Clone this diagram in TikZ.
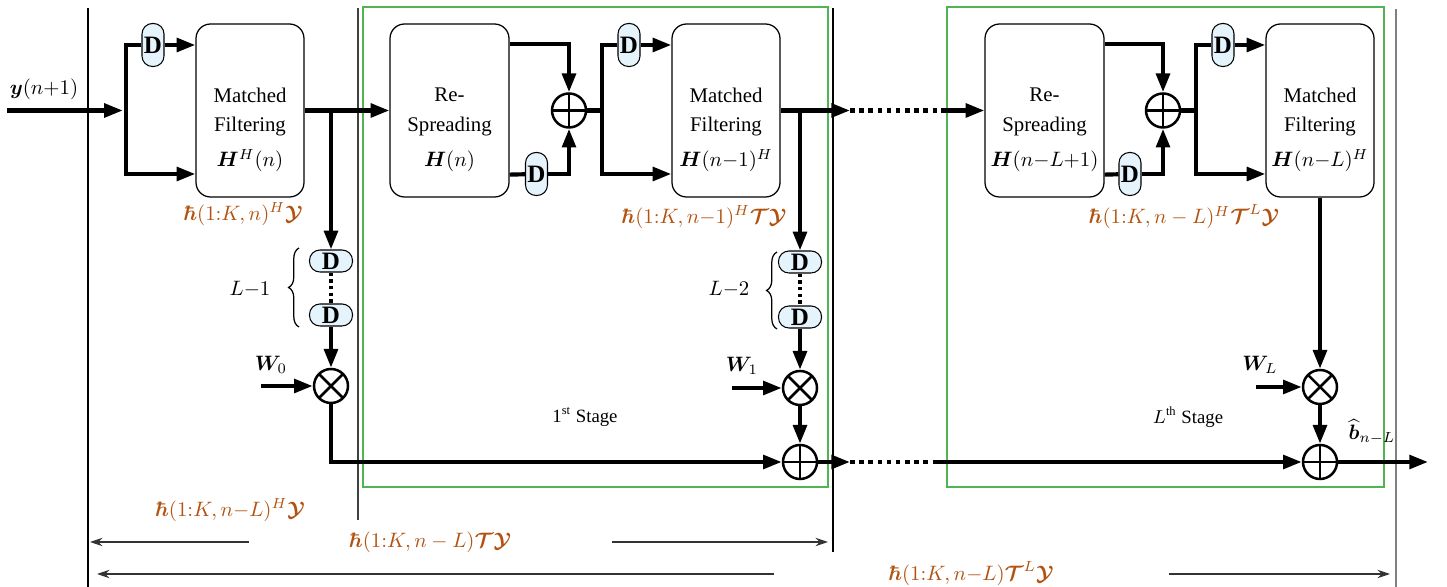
\documentclass[tikz,border=0pt]{standalone}
\usepackage[no-math]{fontspec}
\setmainfont{Liberation Serif}
\usepackage{amsmath}
\usepackage{bm}
\usetikzlibrary{arrows.meta,calc,decorations.pathreplacing}
\newlength\pu \setlength\pu{0.48pt}
\definecolor{lbl}{RGB}{178,82,16}
\definecolor{stagegreen}{RGB}{80,180,80}
\definecolor{dfill}{RGB}{228,243,252}
\begin{document}
\begin{tikzpicture}[x=0.48pt,y=-0.48pt,
  blk/.style={draw, rounded corners=7pt, minimum width=108\pu, minimum height=173\pu, inner sep=0pt, line width=0.6pt},
  blkw/.style={blk, minimum width=119\pu},
  btxt/.style={align=center, font=\fontsize{10}{14}\selectfont, inner sep=0pt},
  dv/.style={draw, fill=dfill, rounded corners=5pt, minimum width=22\pu, minimum height=43\pu, inner sep=0pt, font=\fontsize{12}{12}\selectfont\bfseries, line width=0.5pt},
  dh/.style={dv, minimum width=43\pu, minimum height=22\pu},
  sig/.style={line width=2pt},
  arr/.style={sig, -{Triangle[length=9pt,width=6.5pt]}},
  dotsig/.style={line width=2pt, dash pattern=on 2.2pt off 2.2pt},
  sumnode/.style={circle, draw, line width=1.2pt, minimum size=34\pu, inner sep=0pt,
    path picture={\draw[line width=1.2pt] (path picture bounding box.north)--(path picture bounding box.south) (path picture bounding box.east)--(path picture bounding box.west);}},
  mulnode/.style={circle, draw, line width=1.2pt, minimum size=34\pu, inner sep=0pt,
    path picture={\draw[line width=1.2pt] (path picture bounding box.north west)--(path picture bounding box.south east) (path picture bounding box.north east)--(path picture bounding box.south west);}},
  olbl/.style={text=lbl, font=\fontsize{10}{12}\selectfont},
  thinarr/.style={line width=0.8pt, draw=black!80, {Stealth[length=6pt,width=4pt]}-{Stealth[length=6pt,width=4pt]}},
  brc/.style={decorate, decoration={brace, amplitude=5pt}, line width=0.6pt},
  frame/.style={draw=stagegreen, line width=0.7pt}
]
\useasboundingbox (0,0) rectangle (1447,587);

% stage frames and separators
\draw[frame] (363,7) rectangle (828,487);
\draw[frame] (947,7) rectangle (1384,487);
\draw[line width=0.5pt] (88,8) -- (88,587);
\draw[black!75, line width=0.9pt] (358,8) -- (358,520);
\draw[line width=0.6pt] (833,8) -- (833,552);
\draw[black!50, line width=0.9pt] (1396,9) -- (1396,587);

% ---------- input and first matched filter ----------
\coordinate (yin) at (7,110.5);
\coordinate (sp1) at (126,110.5);
\coordinate (sp1t) at (126,45);
\coordinate (sp1b) at (126,174);
\node (ylab) at (44,89) {$\bm{y}(n{+}1)$};
\node[blk] (mf1) at (250,110.5) {};
\node[btxt] (mf1t) at (250,130) {Matched\\Filtering\\[3pt]$\bm{H}^H(n)$};
\node[dv] (dm1) at (153,45) {D};
\draw[arr, shorten >=1.5pt] (yin) -- (sp1);
\draw[arr] (dm1) -| (sp1b) -- (mf1.west |- sp1b);
\draw[arr] (dm1) -- (mf1.west |- dm1);
\node[olbl] (h1) at (243,214) {$\bm{\hbar}(1{:}K,n)^H\bm{\mathcal{Y}}$};

% branch 0
\coordinate (b1) at (331,110.5);
\node[dh] (d1a) at (331,261) {D};
\node[dh] (d1b) at (331,315) {D};
\node[mulnode] (m1) at (331,386) {};
\coordinate (w0in) at (261,386);
\node (w0l) at (271,365) {$\bm{W}_0$};
\node (l1) at (250,289) {$L{-}1$};
\draw[brc] (299,327) -- (299,248);
\draw[arr] (b1) -- (d1a);
\draw[dotsig, line width=1.5pt, dash pattern=on 1.6pt off 1.6pt] (d1a) -- (d1b);
\draw[arr] (d1b) -- (m1);
\draw[arr] (w0in) -- (m1);

% ---------- stage 1 ----------
\node[blkw] (rs1) at (449.5,110.5) {};
\node[btxt] (rs1t) at (449.5,130) {Re-\\Spreading\\[3pt]$\bm{H}(n)$};
\draw[arr] (mf1) -- (rs1);
\node[sumnode] (s1) at (569,110.5) {};
\node[dv] (dr1) at (536.5,174) {D};
\draw[arr] ($(rs1.north east)+(0,21)$) -| (s1);
\draw[sig] ($(rs1.south east)+(0,-23)$) -- (dr1);
\draw[arr] (dr1) -| (s1);
\coordinate (c2) at (602,110.5);
\coordinate (c2b) at (602,174);
\node[dv] (dm2) at (629,45) {D};
\node[blk] (mf2) at (726,110.5) {};
\node[btxt] (mf2t) at (726,130) {Matched\\Filtering\\[3pt]$\bm{H}(n{-}1)^H$};
\draw[sig] (s1) -- (c2);
\draw[arr] (dm2) -| (c2b) -- (mf2.west |- c2b);
\draw[arr] (dm2) -- (mf2.west |- dm2);
\node[olbl] (h2) at (704,217) {$\bm{\hbar}(1{:}K,n{-}1)^H\bm{\mathcal{T}}\bm{\mathcal{Y}}$};

% branch 1
\coordinate (b2) at (800,110.5);
\node[dh] (d2a) at (800,262) {D};
\node[dh] (d2b) at (800,317) {D};
\node[mulnode] (m2) at (800,388) {};
\node[sumnode] (a1) at (800,462) {};
\coordinate (w1in) at (732,388);
\node (w1l) at (742,366) {$\bm{W}_1$};
\node (l2) at (729,289) {$L{-}2$};
\draw[brc] (777,329) -- (777,252);
\draw[arr] (b2) -- (d2a);
\draw[dotsig, line width=1.5pt, dash pattern=on 1.6pt off 1.6pt] (d2a) -- (d2b);
\draw[arr] (d2b) -- (m2);
\draw[arr] (w1in) -- (m2);
\draw[arr] (m2) -- (a1);
\draw[arr] (m1) |- (a1);
\node (st1) at (585,417) {\fontsize{9}{10}\selectfont 1\textsuperscript{st} Stage};

% ---------- between stages ----------
\coordinate (dt1s) at (850,110.5);
\coordinate (dt1e) at (941,110.5);
\coordinate (dt2s) at (850,462);
\coordinate (dt2e) at (936,462);

% ---------- stage L ----------
\node[blkw] (rs2) at (1044.5,110.5) {};
\node[btxt] (rs2t) at (1044.5,130) {Re-\\Spreading\\[3pt]$\bm{H}(n{-}L{+}1)$};
\draw[arr] (mf2) -- (dt1s);
\draw[dotsig] (dt1s) -- (dt1e);
\draw[arr] (dt1e) -- (rs2);
\node[sumnode] (s2) at (1163,110.5) {};
\node[dv] (dr2) at (1130,174) {D};
\draw[arr] ($(rs2.north east)+(0,21)$) -| (s2);
\draw[sig] ($(rs2.south east)+(0,-23)$) -- (dr2);
\draw[arr] (dr2) -| (s2);
\coordinate (c3) at (1196,110.5);
\coordinate (c3b) at (1196,174);
\node[dv] (dm3) at (1223,45) {D};
\node[blk] (mf3) at (1320,110.5) {};
\node[btxt] (mf3t) at (1320,130) {Matched\\Filtering\\[3pt]$\bm{H}(n{-}L)^H$};
\draw[sig] (s2) -- (c3);
\draw[arr] (dm3) -| (c3b) -- (mf3.west |- c3b);
\draw[arr] (dm3) -- (mf3.west |- dm3);
\node[olbl] (h3) at (1184,217) {$\bm{\hbar}(1{:}K,n-L)^H\bm{\mathcal{T}}^L\bm{\mathcal{Y}}$};

\node[mulnode] (m3) at (1320,387) {};
\node[sumnode] (a3) at (1320,462) {};
\coordinate (wLin) at (1256,387);
\node (wLl) at (1260,365) {$\bm{W}_L$};
\coordinate (out) at (1428,462);
\node (bl) at (1372,432) {$\widehat{\bm{b}}_{n-L}$};
\draw[arr] (mf3) -- (m3);
\draw[arr] (wLin) -- (m3);
\draw[arr] (m3) -- (a3);
\draw[arr] (a1) -- (dt2s);
\draw[dotsig] (dt2s) -- (dt2e);
\draw[arr] (dt2e) -- (a3);
\draw[arr] (a3) -- (out);
\node (stL) at (1188,417) {\fontsize{9}{10}\selectfont $L$\textsuperscript{th} Stage};

% ---------- bottom spans ----------
\node[olbl] (h0) at (230,510) {$\bm{\hbar}(1{:}K,n{-}L)^H\bm{\mathcal{Y}}$};
\coordinate (ar1l) at (90,542);
\coordinate (ar1r) at (828,542);
\draw[thinarr] (ar1l) -- (ar1r);
\node[olbl, fill=white, minimum width=363\pu, inner ysep=1pt] (ar1t) at (430,542) {$\bm{\hbar}(1{:}K,n-L)\bm{\mathcal{T}}\bm{\mathcal{Y}}$};
\coordinate (ar2l) at (97,574);
\coordinate (ar2r) at (1390,574);
\draw[thinarr] (ar2l) -- (ar2r);
\node[olbl, fill=white, minimum width=395\pu, inner ysep=1pt] (ar2t) at (971,574) {$\bm{\hbar}(1{:}K,n{-}L)\bm{\mathcal{T}}^L\bm{\mathcal{Y}}$};
\end{tikzpicture}
\end{document}
